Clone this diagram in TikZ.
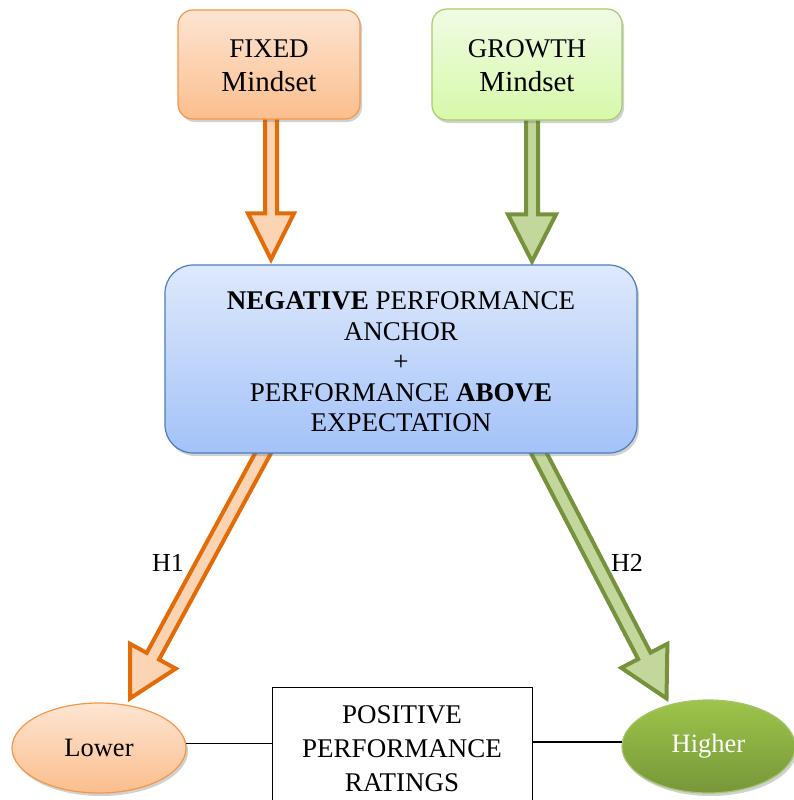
\documentclass[tikz,border=0pt]{standalone}
\usepackage{fontspec}
\setmainfont{Liberation Serif}
\usetikzlibrary{calc,shadows,backgrounds,shapes.geometric}

\definecolor{orline}{HTML}{E36C09}
\definecolor{orfill}{HTML}{FBD4B4}
\definecolor{grline}{HTML}{76923C}
\definecolor{grfill}{HTML}{C3D69B}
\definecolor{orborder}{HTML}{F79646}
\definecolor{ortop}{HTML}{FDE5D3}
\definecolor{orbot}{HTML}{FBBE8D}
\definecolor{grborder}{HTML}{A7CB6C}
\definecolor{grtop}{HTML}{F0FBE4}
\definecolor{grbot}{HTML}{D7F9A9}
\definecolor{blborder}{HTML}{4A7EBB}
\definecolor{bltop}{HTML}{DEE9FC}
\definecolor{blbot}{HTML}{A3C2F8}
\definecolor{hitop}{HTML}{9DC44B}
\definecolor{hibot}{HTML}{779739}
\definecolor{hiborder}{HTML}{A3C46A}

\tikzset{
  softshadow/.style={drop shadow={shadow xshift=2pt, shadow yshift=-3pt, opacity=0.3, fill=black!60}},
  mindbox/.style={rounded corners=15pt, line width=1.2pt, inner sep=0pt, softshadow},
  fixedbox/.style={mindbox, draw=orborder, top color=ortop, bottom color=orbot},
  growthbox/.style={mindbox, draw=grborder, top color=grtop, bottom color=grbot},
  mindtext/.style={inner sep=0pt, align=center, font=\fontsize{27}{34}\selectfont},
  anchorbox/.style={rounded corners=28pt, line width=1.2pt, inner sep=0pt, softshadow,
    draw=blborder, top color=bltop, bottom color=blbot},
  anchortext/.style={inner sep=0pt, align=center, font=\fontsize{27}{30.5}\selectfont},
  outcome/.style={ellipse, inner sep=0pt, line width=1.2pt, softshadow, font=\fontsize{26.5}{30}\selectfont},
  lowerell/.style={outcome, draw=orborder, top color=ortop, bottom color=orbot},
  higherell/.style={outcome, draw=hiborder, top color=hitop, bottom color=hibot, text=white},
  ratingbox/.style={draw=black, line width=1pt, fill=white, inner sep=0pt, align=center,
    font=\fontsize{27}{34}\selectfont},
  link/.style={draw=black, line width=1.5pt},
  hlabel/.style={font=\fontsize{26}{30}\selectfont, inner sep=0pt},
  orarrow/.style={line width=4pt, line join=miter, draw=orline, fill=orfill},
  grarrow/.style={line width=4pt, line join=miter, draw=grline, fill=grfill},
}

\newcommand\mindword{\fontsize{29}{34}\selectfont Mindset}

% block arrow: style, start, tip, shaft half width, head half width, head length
\newcommand\blockarr[6]{%
  \coordinate (ba-h) at ($(#3)!#6!(#2)$);
  \filldraw[#1] ($(#2)!#4!-90:(#3)$) -- ($(ba-h)!#4!90:(#2)$) -- ($(ba-h)!#5!90:(#2)$)
    -- (#3) -- ($(ba-h)!#5!-90:(#2)$) -- ($(ba-h)!#4!-90:(#2)$) -- ($(#2)!#4!90:(#3)$) -- cycle;}

\begin{document}
\begin{tikzpicture}[x=1pt, y=-1pt]
\useasboundingbox (0,0) rectangle (793,800);

\node[fixedbox, minimum width=182pt, minimum height=109pt] (fixed) at (269,64.5) {};
\node[mindtext] (fixedtext) at (269,66) {FIXED\\\mindword};
\node[growthbox, minimum width=190pt, minimum height=111pt] (growth) at (527,64.5) {};
\node[mindtext] (growthtext) at (527,66) {GROWTH\\\mindword};

\node[anchorbox, minimum width=472pt, minimum height=188pt] (anchor) at (401,359) {};
\node[anchortext] (anchortxt) at (401,362)
  {\textbf{NEGATIVE} PERFORMANCE\\ANCHOR\\+\\PERFORMANCE \textbf{ABOVE}\\EXPECTATION};

\node[lowerell, minimum width=174pt, minimum height=90pt] (lower) at (99,748) {Lower};
\node[higherell, minimum width=173pt, minimum height=93pt] (higher) at (708.5,746.5) {Higher};
\node[ratingbox, minimum width=260pt, minimum height=124pt] (ratings) at (402,749)
  {POSITIVE\\PERFORMANCE\\RATINGS};

\draw[link] (lower.3) -- (lower.3 -| ratings.west);
\draw[link] (higher.177) -- (higher.177 -| ratings.east);

\node[hlabel] (h1) at (168,563) {H1};
\node[hlabel] (h2) at (627,563) {H2};

\begin{pgfonlayer}{background}
  \coordinate (fs) at ($(fixed.south)+(2,-4)$);
  \coordinate (ft) at ($(anchor.north)+(-130,-5)$);
  \coordinate (gs) at ($(growth.south)+(5,-4)$);
  \coordinate (gt) at ($(anchor.north)+(131,-3)$);
  \coordinate (ls) at ($(anchor.south)+(-136,-4)$);
  \coordinate (lt) at ($(lower.north)+(31,-4)$);
  \coordinate (hs) at ($(anchor.south)+(136,-4)$);
  \coordinate (ht) at ($(higher.north)+(-42,-1)$);
  \blockarr{orarrow}{fs}{ft}{6pt}{23pt}{46pt}
  \blockarr{grarrow}{gs}{gt}{6pt}{24pt}{47pt}
  \blockarr{orarrow}{ls}{lt}{7pt}{26pt}{48pt}
  \blockarr{grarrow}{hs}{ht}{7pt}{26pt}{48pt}
\end{pgfonlayer}
\end{tikzpicture}
\end{document}
